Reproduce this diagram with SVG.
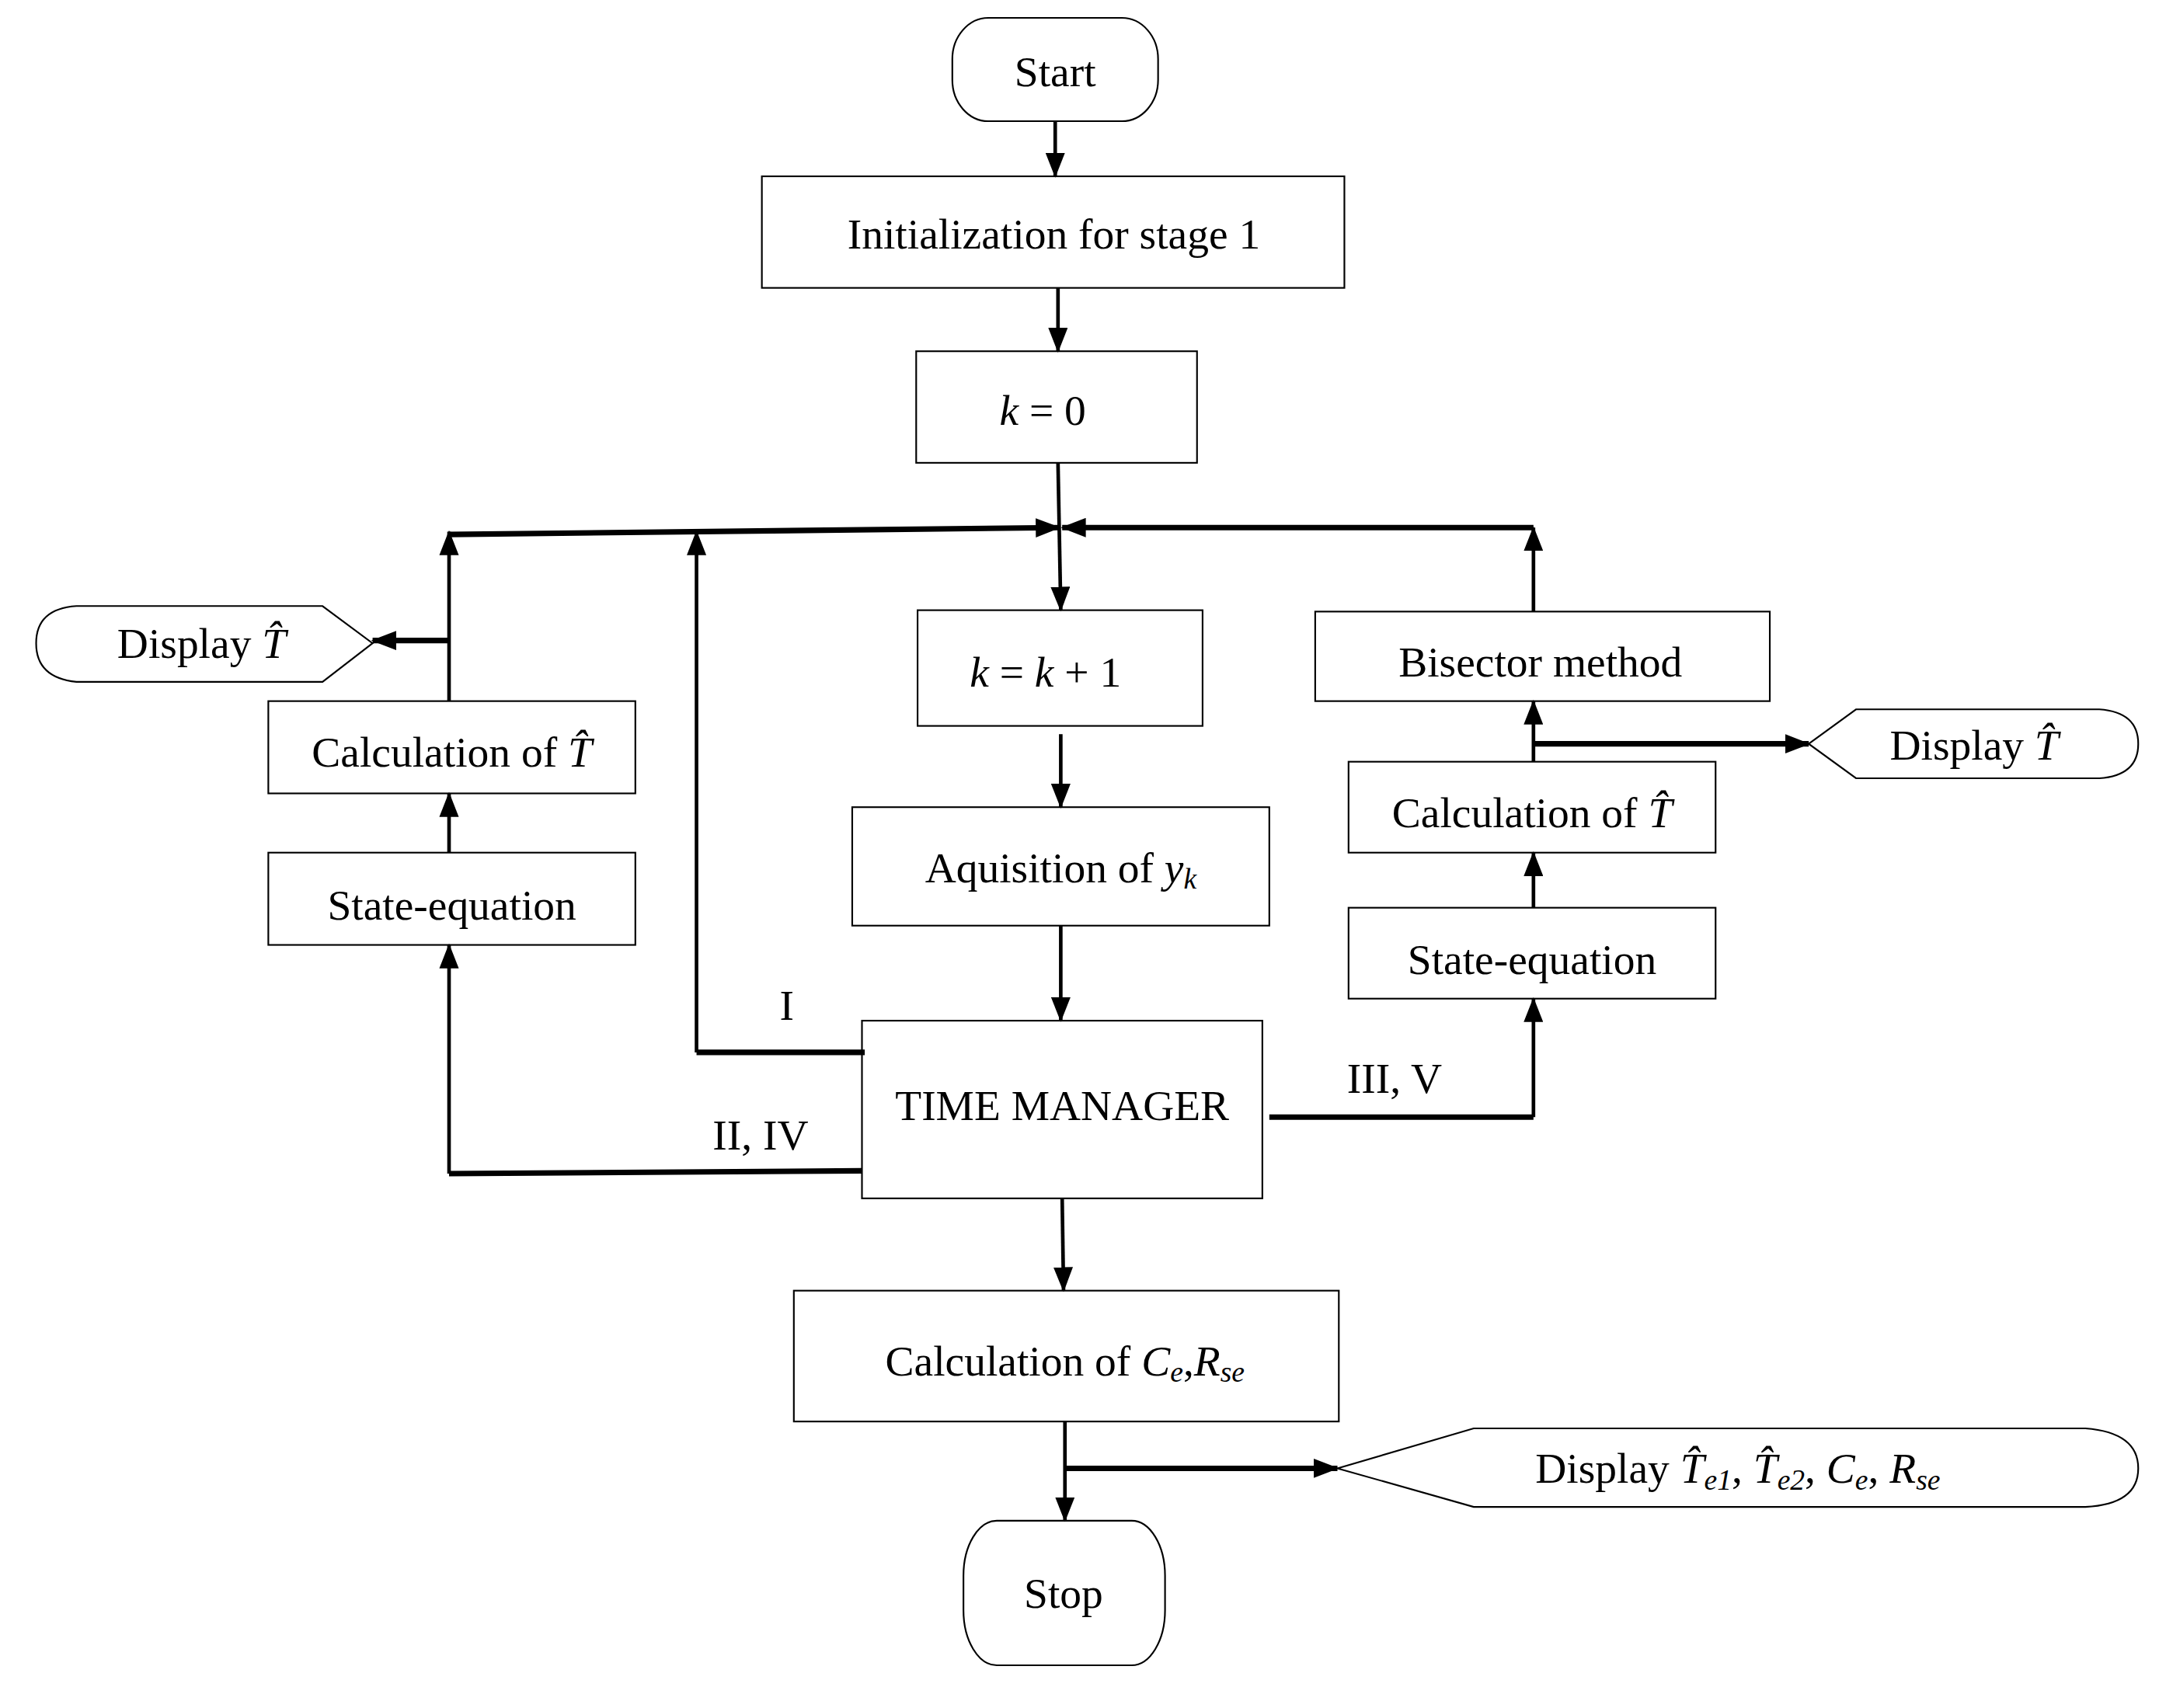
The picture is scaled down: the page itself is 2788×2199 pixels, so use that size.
<svg xmlns="http://www.w3.org/2000/svg" width="2788" height="2199" viewBox="0 0 2788 2199">
<defs>
<marker id="ah" markerUnits="userSpaceOnUse" markerWidth="18" markerHeight="14" refX="17" refY="7" orient="auto"><path d="M0,0 L18,7 L0,14 Z" fill="#000"/></marker>
<style>
.b{fill:#fff;stroke:#000;stroke-width:1.2}
.t{font-family:"Liberation Serif",serif;font-size:31px;text-anchor:middle;dominant-baseline:central;fill:#000}
.i{font-style:italic}
.s{font-size:21px;font-style:italic}
.c{fill:none;stroke:#000;stroke-width:2.6}
.k{fill:none;stroke:#000;stroke-width:4}
</style>
</defs>
<rect width="2788" height="2199" fill="#fff"/>
<g transform="scale(1.7895 1.7734)">
<g id="start"><rect class="b" x="685" y="13" width="148" height="75" rx="26" ry="30"/><text class="t" x="759" y="52">Start</text></g>
<g id="init"><rect class="b" x="548" y="128" width="419" height="81"/><text class="t" x="758" y="170">Initialization for stage 1</text></g>
<g id="k0"><rect class="b" x="659" y="255" width="202" height="81"/><text class="t" x="750" y="298"><tspan class="i">k</tspan> = 0</text></g>
<g id="kinc"><rect class="b" x="660" y="443" width="205" height="84"/><text class="t" x="752" y="488"><tspan class="i">k</tspan> = <tspan class="i">k</tspan> + 1</text></g>
<g id="acq"><rect class="b" x="613" y="586" width="300" height="86"/><text class="t" x="763" y="630">Aquisition of <tspan class="i">y</tspan><tspan class="s" dy="8">k</tspan></text></g>
<g id="tm"><rect class="b" x="620" y="741" width="288" height="129"/><text class="t" x="764" y="803">TIME MANAGER</text></g>
<g id="lstate"><rect class="b" x="193" y="619" width="264" height="67"/><text class="t" x="325" y="657">State-equation</text></g>
<g id="lcalc"><rect class="b" x="193" y="509" width="264" height="67"/><text class="t" x="325" y="546">Calculation of <tspan class="i">T̂</tspan></text></g>
<g id="ldisp"><path class="b" d="M268,467 L232,495 H55 Q26,492 26,467 Q26,442 55,440 H232 Z"/><text class="t" x="145" y="467">Display <tspan class="i">T̂</tspan></text></g>
<g id="rstate"><rect class="b" x="970" y="659" width="264" height="66"/><text class="t" x="1102" y="697">State-equation</text></g>
<g id="rcalc"><rect class="b" x="970" y="553" width="264" height="66"/><text class="t" x="1102" y="590">Calculation of <tspan class="i">T̂</tspan></text></g>
<g id="bisect"><rect class="b" x="946" y="444" width="327" height="65"/><text class="t" x="1108" y="481">Bisector method</text></g>
<g id="rdisp"><path class="b" d="M1301,540 L1335,515 H1510 Q1538,517 1538,540 Q1538,563 1510,565 H1335 Z"/><text class="t" x="1420" y="541">Display <tspan class="i">T̂</tspan></text></g>
<g id="calcce"><rect class="b" x="571" y="937" width="392" height="95"/><text class="t" x="766" y="988">Calculation of <tspan class="i">C</tspan><tspan class="s" dy="8">e</tspan><tspan dy="-8">,</tspan><tspan class="i">R</tspan><tspan class="s" dy="8">se</tspan></text></g>
<g id="bdisp"><path class="b" d="M962,1066 L1060,1037 H1500 Q1538,1040 1538,1066 Q1538,1092 1500,1094 H1060 Z"/><text class="t" x="1250" y="1066">Display <tspan class="i">T̂</tspan><tspan class="s" dy="8">e1</tspan><tspan dy="-8">, </tspan><tspan class="i">T̂</tspan><tspan class="s" dy="8">e2</tspan><tspan dy="-8">, </tspan><tspan class="i">C</tspan><tspan class="s" dy="8">e</tspan><tspan dy="-8">, </tspan><tspan class="i">R</tspan><tspan class="s" dy="8">se</tspan></text></g>
<g id="stop"><rect class="b" x="693" y="1104" width="145" height="105" rx="24" ry="40"/><text class="t" x="765" y="1157">Stop</text></g>
<g id="labels"><text class="t" x="566" y="730">I</text><text class="t" x="547" y="824">II, IV</text><text class="t" x="1003" y="783">III, V</text></g>
<g id="connectors">
<path class="c" d="M759,88 V128" marker-end="url(#ah)"/>
<path class="c" d="M761,209 V255" marker-end="url(#ah)"/>
<path class="c" d="M761,336 L763,443" marker-end="url(#ah)"/>
<path class="k" d="M323,388 L762,383" marker-end="url(#ah)"/>
<path class="k" d="M1103,383 H764" marker-end="url(#ah)"/>
<path class="c" d="M763,533 V586" marker-end="url(#ah)"/>
<path class="c" d="M763,672 V741" marker-end="url(#ah)"/>
<path class="k" d="M622,764 H501"/><path class="c" d="M501,764 V386" marker-end="url(#ah)"/>
<path class="k" d="M620,850 L323,852"/><path class="c" d="M323,852 V686" marker-end="url(#ah)"/>
<path class="c" d="M323,619 V576" marker-end="url(#ah)"/>
<path class="c" d="M323,509 V386" marker-end="url(#ah)"/>
<path class="k" d="M323,465 H268" marker-end="url(#ah)"/>
<path class="k" d="M913,811 H1103"/><path class="c" d="M1103,811 V725" marker-end="url(#ah)"/>
<path class="c" d="M1103,659 V619" marker-end="url(#ah)"/>
<path class="c" d="M1103,553 V509" marker-end="url(#ah)"/>
<path class="k" d="M1103,540 H1301" marker-end="url(#ah)"/>
<path class="c" d="M1103,444 V383" marker-end="url(#ah)"/>
<path class="c" d="M764,870 L765,937" marker-end="url(#ah)"/>
<path class="c" d="M766,1032 V1104" marker-end="url(#ah)"/>
<path class="k" d="M766,1066 H962" marker-end="url(#ah)"/>
</g>
</g>
</svg>
